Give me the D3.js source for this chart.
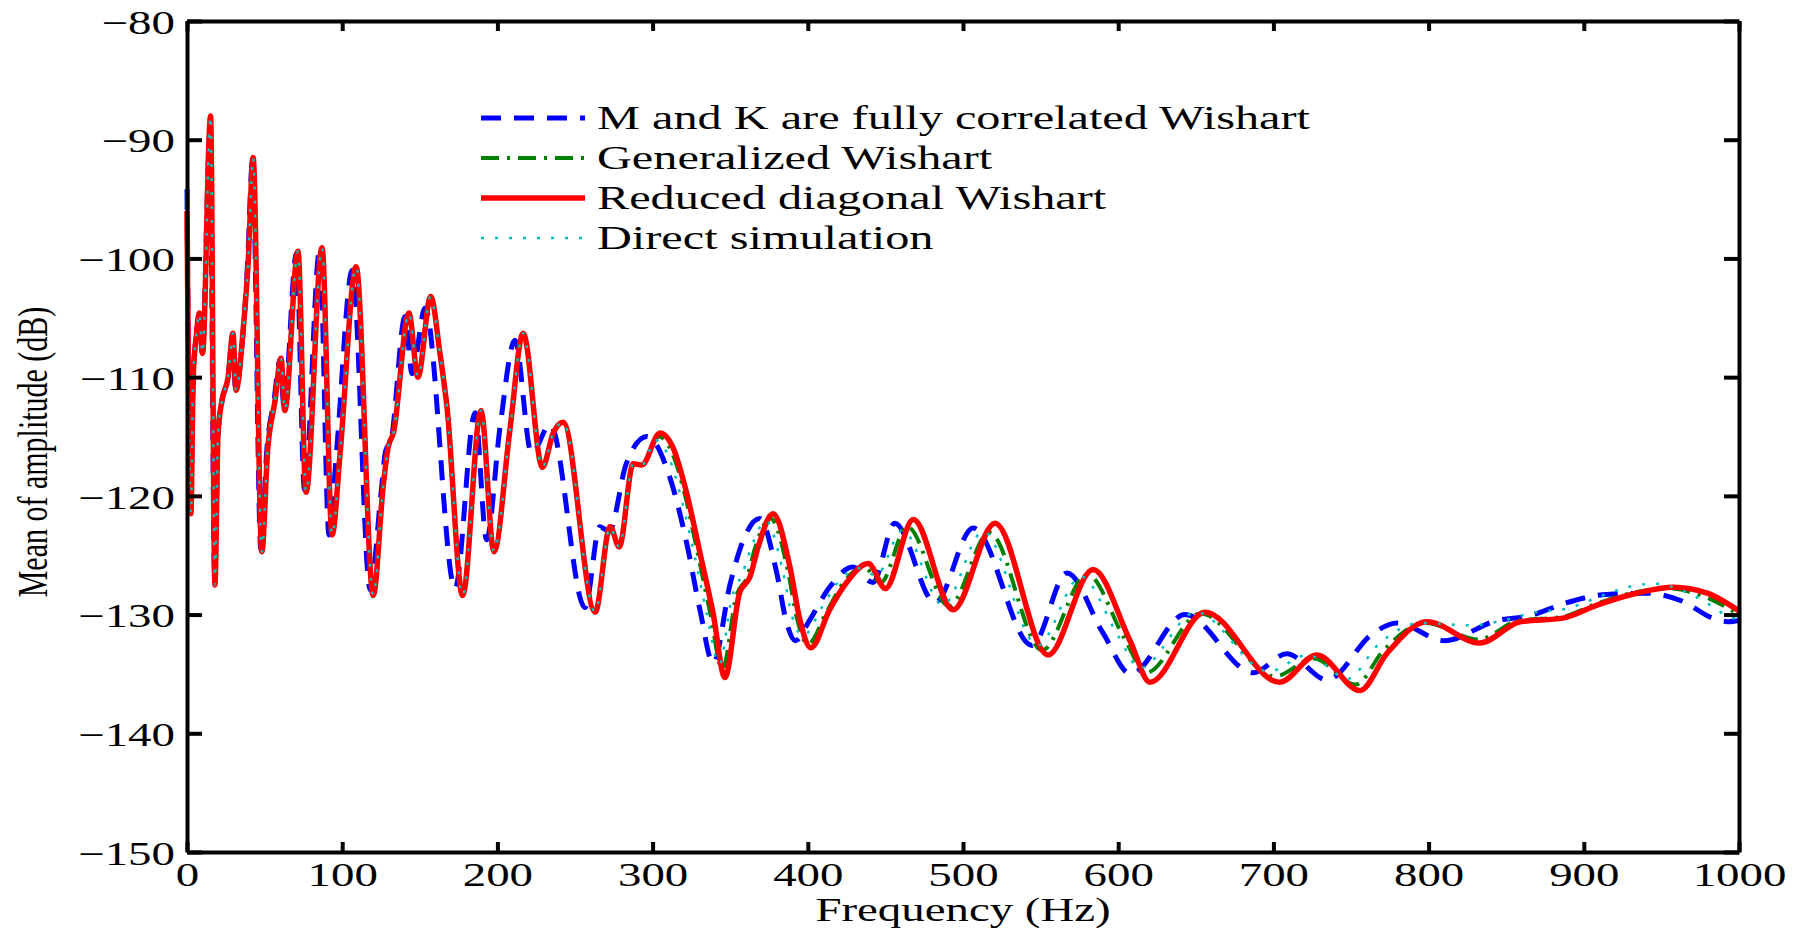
<!DOCTYPE html>
<html lang="en">
<head>
<meta charset="UTF-8">
<title>Mean of amplitude</title>
<script src="https://d3js.org/d3.v7.min.js"></script>
<style>
  body { margin: 0; background: #fff; }
  svg text { font-family: "Liberation Serif", "Times New Roman", serif; fill: #000; }
</style>
</head>
<body>
<div id="chart"></div>
<script>
// tick values
const xTicks = [0, 100, 200, 300, 400, 500, 600, 700, 800, 900, 1000];
const yTicks = [-150, -140, -130, -120, -110, -100, -90, -80];

const legendLabels = [
  "M and K are fully correlated Wishart",
  "Generalized Wishart",
  "Reduced diagonal Wishart",
  "Direct simulation"
];

// [frequency (Hz), mean amplitude (dB)]
// below ~295 Hz the three last curves lie on top of each other
const lowBand = [
  [2.5,-121.5],[4,-110],[6,-106.5],[8,-104.6],[10,-108],[15.2,-88],[18,-127.5],[20,-114.7],
  [22.5,-112],[26.5,-110],[29.6,-106.3],[31.6,-111.1],[36,-106.3],[39.5,-100.1],[42.6,-91.5],
  [48.2,-124.7],[52,-116.1],[56.7,-112],[60.6,-108.4],[63,-112.8],[71.5,-99.4],[76.7,-119.7],
  [87,-99.1],[93.5,-123.3],[98.6,-116.5],[109,-100.7],[120,-128.4],[126.4,-119.2],[129.6,-115.9],
  [133,-114.7],[143,-104.6],[148.8,-110],[157,-103.2],[163,-108],[167.5,-112.5],[177.6,-128.4],
  [189.4,-112.8],[197.8,-124.7],[208,-114.5],[216.6,-106.3],[229,-117.6],[236,-114.7],
  [242.4,-113.8],[263,-129.8],[272.6,-122.6],[278.5,-124.3],[287.5,-117.3],[293,-117.4]
];

const redHigh = [
  [304.8,-114.7],[313,-115.9],[322,-119.8],[330.5,-124.8],[339,-129.9],[346.6,-135.3],[356,-128.2],
  [362.8,-126.8],[368,-124.3],[377.6,-121.5],[388.5,-126],[395,-130.5],[402,-132.8],[414,-129.6],
  [425,-127.3],[439,-125.7],[450,-127.8],[468,-122],[493.6,-129.6],[520.6,-122.3],[554.8,-133.4],
  [583.8,-126.2],[607.6,-132.2],[620.5,-135.7],[656,-129.8],[704,-135.7],[728,-133.4],
  [755.8,-136.4],[773,-133.3],[799,-130.6],[833,-132.4],[859,-130.6],[886.6,-130.3],
  [908.5,-129.2],[934,-128.2],[957.6,-127.7],[979.5,-128.2],[1000,-129.7]
];

const greenHigh = [
  [304,-115],[312,-116.2],[321,-120],[329,-124.8],[337,-129.8],[345,-134.6],[354,-128.4],
  [361,-126.8],[366,-124.4],[376,-121.9],[387,-126.2],[393,-130.3],[400,-132.5],[412,-129.8],
  [423,-127.3],[436,-126],[447,-127.3],[464,-122.6],[491,-129.3],[517,-123.1],[551,-133],
  [580,-126.6],[604,-132],[618,-134.9],[653,-129.9],[701,-135.2],[726,-133.7],[753,-135.9],
  [771,-133],[798,-130.7],[832,-132.1],[858,-130.5],[886,-130.2],[908,-129.1],[934,-128.1],
  [955,-127.8],[978,-128.5],[1000,-130]
];

const cyanHigh = [
  [302,-115.3],[310,-116.6],[319,-120.5],[327,-125],[335,-130],[343,-134.2],[351,-128.6],
  [358,-126.5],[364,-124.2],[373,-122.1],[384,-126.4],[390,-130.2],[397,-131.8],[409,-129.4],
  [420,-127.2],[433,-126.1],[444,-126.7],[461,-122.9],[487,-129.2],[513,-123],[548,-132.6],
  [576,-126.8],[600,-131.8],[614,-134.5],[650,-129.8],[697,-134.8],[722,-133.4],[748,-135.4],
  [767,-132.6],[795,-130.7],[828,-130.9],[848,-130.5],[869,-129.8],[889,-129.5],[908,-128.6],
  [925,-127.8],[945,-127.4],[962,-127.9],[979,-129],[994,-130.2],[1000,-130.4]
];

const fullyCorrelated = [
  [0,-94.2],[2.3,-121],[4,-110],[6,-106.5],[8,-104.8],[9.8,-108],[14.8,-89.5],[17.8,-126.8],
  [20,-115],[22.5,-112],[26.5,-110],[29.3,-106.5],[31.3,-111],[36,-106.5],[39,-100.5],
  [42.2,-91.8],[47.6,-124.5],[51.5,-116],[56,-112],[60,-108.5],[62.5,-112.5],[70.5,-99.6],
  [75.7,-119.5],[85.5,-99.3],[91.5,-123.3],[96.5,-116],[106.5,-101],[118,-127.9],[125,-119.8],
  [128,-116.2],[131.5,-115.3],[140.5,-104.9],[145,-109.7],[153.4,-104.2],[172.7,-127.8],
  [185.6,-113],[193,-123.7],[201.7,-114.2],[211.3,-106.9],[222,-116.4],[234,-114],
  [256.4,-129.4],[266,-122.6],[272,-123],[283,-117.3],[296.4,-115],[311,-118.4],[322,-124],
  [330.5,-129.6],[339,-134.1],[350,-127.4],[358.5,-123.7],[369,-121.9],[380,-126.5],
  [386,-130.5],[392,-132.2],[401,-130.5],[414,-127.7],[429,-126],[442,-127.3],[456,-122.3],
  [482,-129],[506.5,-122.7],[544.5,-132.6],[567,-126.5],[590,-131.5],[608,-135],[643,-130],
  [687,-134.9],[708.6,-133.3],[734.5,-135.5],[764,-131.6],[779.6,-130.7],[810,-132.2],
  [844,-130.5],[865,-130.1],[889,-129],[914.6,-128.3],[940.4,-128.2],[964,-128.9],
  [983,-130.3],[993,-130.6],[1000,-130.5]
];

const generalized = [[0,-94.3]].concat(lowBand, greenHigh);
const reducedDiag = [[0,-96]].concat(lowBand, redHigh);
const directSim = [[0,-94]].concat(lowBand, cyanHigh);

// the original figure is stretched sideways, text too
const stretch = 1.42;
const fontSize = 33;

const W = 1805, H = 928;
const margin = { top: 21, right: 66, bottom: 76, left: 187 };

const svg = d3.select("#chart").append("svg")
  .attr("width", W)
  .attr("height", H);

const x = d3.scaleLinear().domain([0, 1000]).range([margin.left, W - margin.right]);
const y = d3.scaleLinear().domain([-150, -80]).range([H - margin.bottom, margin.top]);

const line = d3.line()
  .x(d => x(d[0]))
  .y(d => y(d[1]))
  .curve(d3.curveMonotoneX);

const series = [
  { data: fullyCorrelated, color: "#0000ff", width: 5, dash: "20,13" },
  { data: generalized, color: "#008000", width: 4, dash: "18,8,3,8" },
  { data: reducedDiag, color: "#ff0000", width: 5.5, dash: null },
  { data: directSim, color: "#00bfbf", width: 2.5, dash: "3,11" }
];

series.forEach(s => {
  svg.append("path")
    .datum(s.data)
    .attr("fill", "none")
    .attr("stroke", s.color)
    .attr("stroke-width", s.width)
    .attr("stroke-dasharray", s.dash)
    .attr("stroke-linejoin", "round")
    .attr("d", line);
});

// axes (box with inward ticks)
function styleAxis(g) {
  g.attr("font-size", fontSize).attr("font-family", null);
  g.select(".domain").attr("stroke", "#000").attr("stroke-width", 4);
  g.selectAll(".tick line").attr("stroke", "#000").attr("stroke-width", 4);
}

const fmt = d3.format("d");

const xb = svg.append("g")
  .attr("transform", `translate(0,${H - margin.bottom})`)
  .call(d3.axisBottom(x).tickValues(xTicks).tickFormat(fmt).tickSize(-10).tickSizeOuter(0).tickPadding(11))
  .call(styleAxis);
xb.selectAll("text").attr("transform", `scale(${stretch},1)`);

svg.append("g")
  .attr("transform", `translate(0,${margin.top})`)
  .call(d3.axisTop(x).tickValues(xTicks).tickSize(-10).tickSizeOuter(0).tickFormat(""))
  .call(styleAxis);

const yl = svg.append("g")
  .attr("transform", `translate(${margin.left},0)`)
  .call(d3.axisLeft(y).tickValues(yTicks).tickFormat(fmt).tickSize(-15).tickSizeOuter(0).tickPadding(8.5))
  .call(styleAxis);
yl.selectAll("text").attr("dy", "0.37em").attr("transform", `scale(${stretch},1)`);

svg.append("g")
  .attr("transform", `translate(${W - margin.right},0)`)
  .call(d3.axisRight(y).tickValues(yTicks).tickSize(-15).tickSizeOuter(0).tickFormat(""))
  .call(styleAxis);

// axis titles
svg.append("text")
  .attr("transform", `translate(${(margin.left + W - margin.right) / 2},921) scale(${stretch},1)`)
  .attr("text-anchor", "middle")
  .attr("font-size", 33)
  .text("Frequency (Hz)");

svg.append("text")
  .attr("transform", `translate(47,452) scale(${stretch},1) rotate(-90)`)
  .attr("text-anchor", "middle")
  .attr("font-size", 30)
  .text("Mean of amplitude (dB)");

// legend, no frame
const legend = svg.append("g");
series.forEach((s, i) => {
  const ly = 118 + i * 40;
  legend.append("line")
    .attr("x1", 481).attr("x2", 585)
    .attr("y1", ly).attr("y2", ly)
    .attr("stroke", s.color)
    .attr("stroke-width", s.width)
    .attr("stroke-dasharray", s.dash);
  legend.append("text")
    .attr("transform", `translate(597,${ly + 11}) scale(${stretch},1)`)
    .attr("font-size", 34)
    .text(legendLabels[i]);
});
</script>
</body>
</html>
